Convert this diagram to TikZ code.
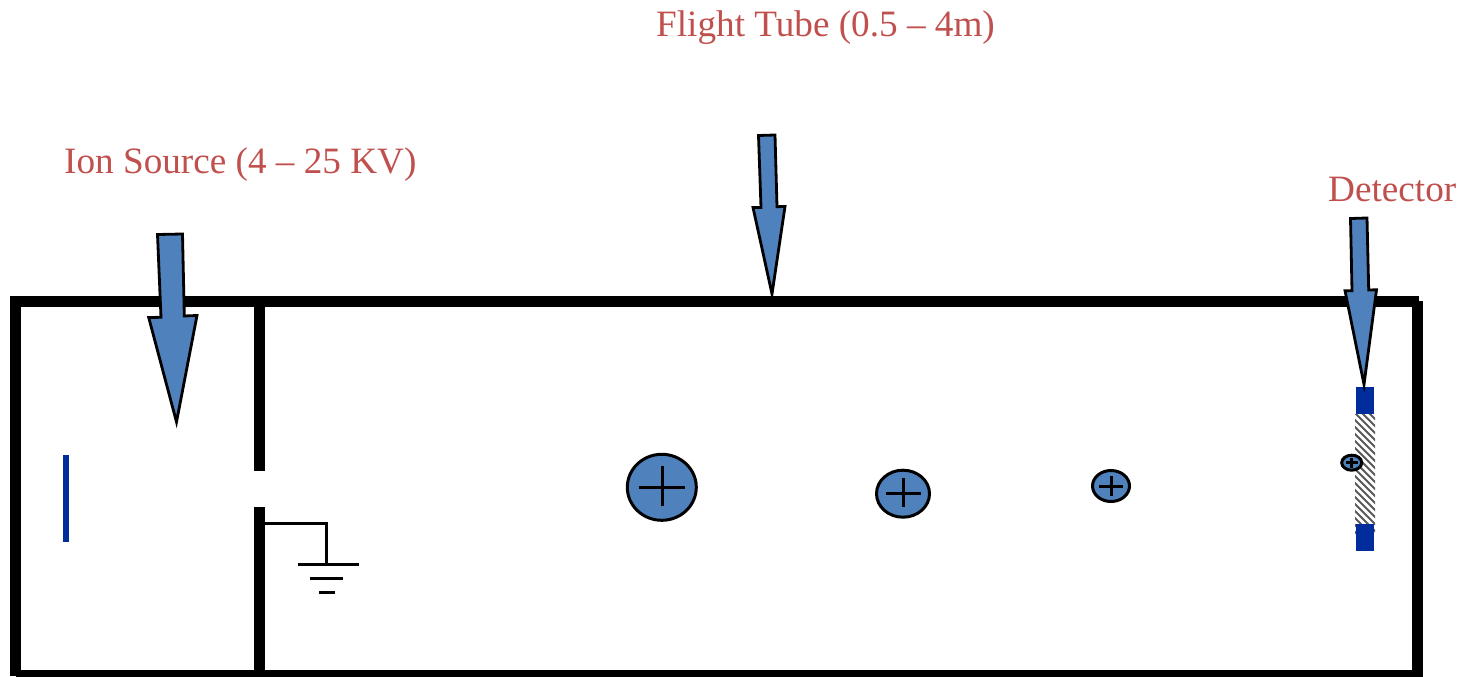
\documentclass[tikz,border=0pt]{standalone}
\usepackage{fontspec}
\setmainfont{Liberation Serif}
\usetikzlibrary{shapes.geometric}
\definecolor{arrowblue}{HTML}{4F81BD}
\definecolor{plateblue}{HTML}{002D9B}
\definecolor{labelred}{HTML}{C0504D}
\tikzset{
  wall/.style={fill=black,draw=none},
  plate/.style={fill=plateblue,draw=none},
  callout/.style={fill=arrowblue,draw=black,line width=2.8pt,line join=miter,miter limit=10},
  gnd/.style={draw=black,line width=3pt},
  ion/.style={ellipse,fill=arrowblue,draw=black,line width=3pt,inner sep=0pt},
  cross/.style={draw=black,line width=3pt},
  lbl/.style={text=labelred,font=\fontsize{37.2}{40}\selectfont,anchor=base west,inner sep=0pt}
}
\begin{document}
\begin{tikzpicture}[x=1pt,y=-1pt]
\useasboundingbox (0,0) rectangle (1464,677);
% frame
\fill[wall] (10,296) rectangle (1419,307);
\fill[wall] (10,296) rectangle (21,676);
\fill[wall] (16,670) rectangle (1423,677);
\fill[wall] (1412,301) rectangle (1423,677);
\fill[wall] (254,307) rectangle (265,471);
\fill[wall] (254,507) rectangle (265,670);
% source plate
\fill[plate] (63,455) rectangle (69,542);
% ground
\draw[gnd] (265,523.3) -- (326.5,523.3) -- (326.5,564);
\draw[gnd] (298,564) -- (359,564);
\draw[gnd] (310,578.5) -- (343,578.5);
\draw[gnd] (319,592) -- (335,592);
% detector
\begin{scope}
\clip (1355,414) rectangle (1375,533);
\foreach \k in {0,7,...,170}
  \draw[black!65,line width=2pt] (1340,370+\k) -- (1390,420+\k);
\end{scope}
\fill[plate] (1356,387) rectangle (1374,414);
\fill[plate] (1356,524) rectangle (1374,551);
% callout arrows
\draw[callout] (157.5,234.5) -- (182.5,234) -- (184.3,316) -- (197,315.5) -- (176.5,422) -- (148.7,317.5) -- (161,317.3) -- cycle;
\draw[callout] (758.5,135.5) -- (775,135) -- (777,206.7) -- (785,206.5) -- (772,294) -- (753,207.5) -- (761,207.5) -- cycle;
\draw[callout] (1350.5,218.5) -- (1367,218) -- (1368.7,290) -- (1376.5,289.8) -- (1364,384.5) -- (1345,290.7) -- (1352,290.7) -- cycle;
% ions
\node[ion,minimum width=69pt,minimum height=66pt] (ionA) at (661.8,487.3) {};
\draw[cross] (638.6,487.3) -- (685,487.3) (662.5,466) -- (662.5,506);
\node[ion,minimum width=53pt,minimum height=47pt] (ionB) at (903,493.7) {};
\draw[cross] (886.4,493.7) -- (921,493.7) (903.6,478) -- (903.6,507);
\node[ion,minimum width=37pt,minimum height=31pt] (ionC) at (1111,486) {};
\draw[cross] (1099,486) -- (1123,486) (1111,476) -- (1111,496);
\node[ion,minimum width=20pt,minimum height=15pt] (ionD) at (1351.7,462.7) {};
\draw[cross,line width=2.6pt] (1345.7,462.7) -- (1358,462.7) (1351.7,458) -- (1351.7,467.5);
% labels
\node[lbl] (lblTube) at (656,37) {Flight Tube (0.5 – 4m)};
\node[lbl] (lblSource) at (64,173.5) {Ion Source (4 – 25 KV)};
\node[lbl] (lblDet) at (1328,201) {Detector};
\end{tikzpicture}
\end{document}
